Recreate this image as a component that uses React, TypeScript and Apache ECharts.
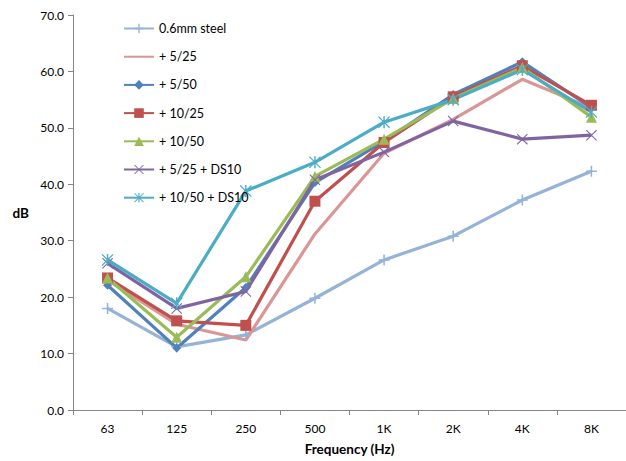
import React, { useEffect, useRef } from "react";
import * as echarts from "echarts";

const categories = ["63", "125", "250", "500", "1K", "2K", "4K", "8K"];
const seriesNames = [
  "0.6mm steel",
  "+ 5/25",
  "+ 5/50",
  "+ 10/25",
  "+ 10/50",
  "+ 5/25 + DS10",
  "+ 10/50 + DS10",
];
const steel = [18.0, 11.2, 13.3, 19.8, 26.6, 30.8, 37.2, 42.3];
const s525 = [23.0, 15.2, 12.4, 31.2, 45.5, 51.5, 58.6, 53.5];
const s550 = [22.1, 11.0, 21.7, 40.3, 47.6, 55.9, 61.7, 53.6];
const s1025 = [23.4, 15.8, 15.0, 37.0, 47.4, 55.5, 61.0, 54.0];
const s1050 = [23.4, 12.9, 23.6, 41.4, 48.0, 55.2, 60.7, 51.9];
const s525ds = [26.0, 18.0, 21.0, 40.8, 45.7, 51.2, 48.0, 48.7];
const s1050ds = [26.6, 18.9, 38.8, 43.9, 51.0, 55.0, 60.3, 52.8];
const yTicks = { min: 0, max: 70, interval: 10 };

const colors = ["#95B3D7", "#D99694", "#4F81BD", "#C0504D", "#9BBB59", "#8064A2", "#4BACC6"];

const plusPath = "path://M4.3,0H5.7V10H4.3ZM0,4.3H10V5.7H0Z";
const xPath =
  "path://M0.7,0L10,9.3L9.3,10L0,0.7ZM9.3,0L10,0.7L0.7,10L0,9.3Z";
const starPath =
  "path://M0.7,0L10,9.3L9.3,10L0,0.7ZM9.3,0L10,0.7L0.7,10L0,9.3ZM4.4,0H5.6V10H4.4Z";

export default function App() {
  const ref = useRef<HTMLDivElement>(null);
  useEffect(() => {
    if (!ref.current) return;
    const chart = echarts.init(ref.current, null, { renderer: "svg" });
    const data = [steel, s525, s550, s1025, s1050, s525ds, s1050ds];
    const symbols = [plusPath, "none", "diamond", "rect", "triangle", xPath, starPath];
    const sizes = [11, 9, 9, 11, 11, 11, 12];
    const font = "Lato, 'Open Sans', sans-serif";
    chart.setOption({
      animation: false,
      color: colors,
      textStyle: { fontFamily: font },
      grid: { left: 73, right: -2, top: 15, bottom: 48, containLabel: false },
      legend: {
        orient: "vertical",
        left: 118,
        top: 17,
        padding: 5,
        itemWidth: 30,
        itemHeight: 12,
        itemGap: 15.2,
        textStyle: { fontSize: 12.5, color: "#000", fontFamily: font },
        data: seriesNames.map((name, i) =>
          symbols[i] === "none"
            ? { name, itemStyle: { color: "rgba(0,0,0,0)", borderWidth: 0 } }
            : { name }
        ),
      },
      xAxis: {
        type: "category",
        data: categories,
        boundaryGap: true,
        axisLine: { lineStyle: { color: "#868686", width: 1 } },
        axisTick: { show: true, length: 5, lineStyle: { color: "#868686" } },
        axisLabel: { color: "#000", fontSize: 12, margin: 12, fontFamily: font },
        name: "Frequency (Hz)",
        nameLocation: "middle",
        nameGap: 32,
        nameTextStyle: { fontWeight: "bold", fontSize: 13.5, color: "#000", fontFamily: font },
      },
      yAxis: {
        type: "value",
        min: yTicks.min,
        max: yTicks.max,
        interval: yTicks.interval,
        splitLine: { show: false },
        axisLine: { show: true, lineStyle: { color: "#868686", width: 1 } },
        axisTick: { show: true, length: 5, lineStyle: { color: "#868686" } },
        axisLabel: {
          color: "#000",
          fontSize: 12,
          margin: 9,
          fontFamily: font,
          formatter: (v: number) => v.toFixed(1),
        },
        name: "dB",
        nameLocation: "middle",
        nameRotate: 0,
        nameGap: 44,
        nameTextStyle: { fontWeight: "bold", fontSize: 13.5, color: "#000", fontFamily: font },
      },
      series: seriesNames.map((name, i) => ({
        name,
        type: "line",
        data: data[i],
        symbol: symbols[i],
        symbolSize: sizes[i],
        showSymbol: symbols[i] !== "none",
        lineStyle: { width: 3.2, color: colors[i] },
        itemStyle: { color: colors[i] },
        emphasis: { disabled: true },
      })),
    });
    return () => chart.dispose();
  }, []);
  return (
    <div
      ref={ref}
      style={{ position: "fixed", left: 0, top: 0, width: 626, height: 461, background: "#fff" }}
    />
  );
}
